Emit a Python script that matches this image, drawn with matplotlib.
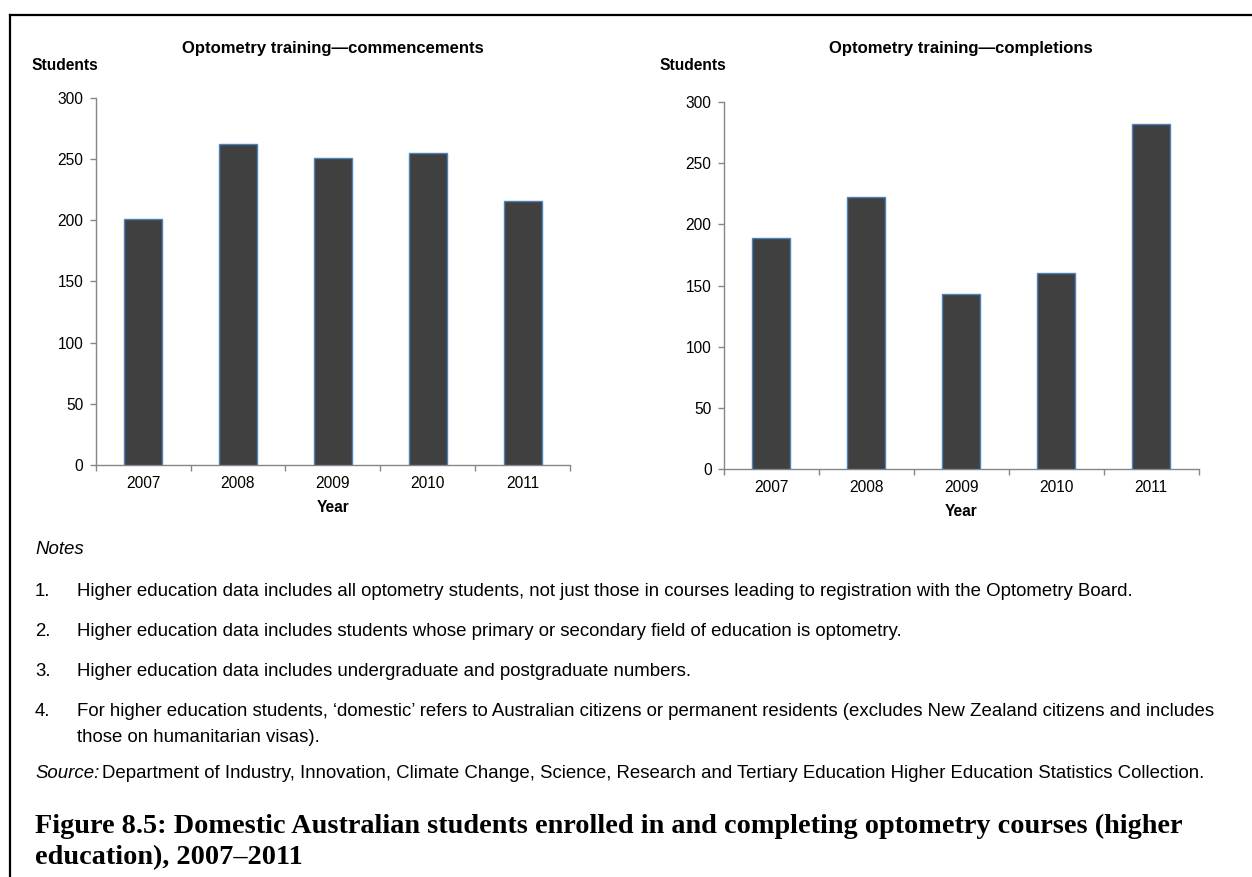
import matplotlib
matplotlib.use("Agg")
import matplotlib.pyplot as plt
from matplotlib.lines import Line2D

plt.rcParams['font.family'] = ['Liberation Sans', 'DejaVu Sans']

years = ["2007", "2008", "2009", "2010", "2011"]
commencements = [201, 262, 251, 255, 216]
completions = [189, 222, 143, 160, 282]
y_ticks = [0, 50, 100, 150, 200, 250, 300]

title_left = "Optometry training\u2014commencements"
title_right = "Optometry training\u2014completions"
notes = [
    ("1.", "Higher education data includes all optometry students, not just those in courses leading to registration with the Optometry Board."),
    ("2.", "Higher education data includes students whose primary or secondary field of education is optometry."),
    ("3.", "Higher education data includes undergraduate and postgraduate numbers."),
    ("4.", "For higher education students, \u2018domestic\u2019 refers to Australian citizens or permanent residents (excludes New Zealand citizens and includes"),
]
note4_cont = "those on humanitarian visas)."
source_text = "Department of Industry, Innovation, Climate Change, Science, Research and Tertiary Education Higher Education Statistics Collection."
fig_title_1 = "Figure 8.5: Domestic Australian students enrolled in and completing optometry courses (higher"
fig_title_2 = "education), 2007\u20132011"

W, H = 1252, 877
fig = plt.figure(figsize=(W / 100, H / 100), dpi=100)

def fx(x):
    return x / W

def fy(y):
    return 1 - y / H

AX_GRAY = "#868686"
BAR_FACE = "#404040"
BAR_EDGE = "#4F81BD"
TICK_FS = 11.2

def make_chart(x0, x1, ytop, ybot, values, title, title_y, students_x):
    ax = fig.add_axes([fx(x0), fy(ybot), fx(x1) - fx(x0), fy(ytop) - fy(ybot)])
    pos = list(range(len(years)))
    ax.bar(pos, values, width=0.4, color=BAR_FACE, edgecolor=BAR_EDGE, linewidth=1.0, zorder=3)
    ax.set_xlim(-0.5, len(years) - 0.5)
    ax.set_ylim(0, 300)
    for s in ("top", "right"):
        ax.spines[s].set_visible(False)
    for s in ("left", "bottom"):
        ax.spines[s].set_color(AX_GRAY)
        ax.spines[s].set_linewidth(1.0)
    ax.set_yticks(y_ticks)
    ax.set_yticklabels([str(v) for v in y_ticks])
    ax.tick_params(axis="y", direction="out", length=4, width=1, color=AX_GRAY,
                   labelsize=TICK_FS, pad=5, labelcolor="black")
    ax.set_xticks([p - 0.5 for p in pos] + [len(years) - 0.5])
    ax.set_xticklabels([])
    ax.tick_params(axis="x", which="major", direction="out", length=4, width=1, color=AX_GRAY)
    ax.set_xticks(pos, minor=True)
    ax.set_xticklabels(years, minor=True)
    ax.tick_params(axis="x", which="minor", length=0, labelsize=TICK_FS, pad=8, labelcolor="black")
    ax.set_xlabel("Year", fontsize=11.2, fontweight="bold", labelpad=6.5)
    cx = (x0 + x1) / 2
    fig.text(fx(cx), fy(title_y), title, ha="center", va="center", fontsize=12, fontweight="bold")
    fig.text(fx(students_x), fy(65), "Students", ha="left", va="center", fontsize=11.2, fontweight="bold")
    return ax

make_chart(95.7, 570, 97.7, 465, commencements, title_left, 48, 31)
make_chart(724, 1198.6, 101.7, 469.3, completions, title_right, 48, 659)

# Frame lines
fig.add_artist(Line2D([fx(10), fx(W)], [fy(15), fy(15)], color="black", linewidth=1.6))
fig.add_artist(Line2D([fx(10), fx(10)], [fy(15), fy(H)], color="black", linewidth=1.6))

NOTE_FS = 13.4
fig.text(fx(35), fy(550), "Notes", ha="left", va="center", fontsize=NOTE_FS, style="italic")
note_ys = [592, 632, 672, 712]
for (num, txt), yy in zip(notes, note_ys):
    fig.text(fx(35), fy(yy), num, ha="left", va="center", fontsize=NOTE_FS)
    fig.text(fx(77), fy(yy), txt, ha="left", va="center", fontsize=NOTE_FS)
fig.text(fx(77), fy(738), note4_cont, ha="left", va="center", fontsize=NOTE_FS)

src = fig.text(fx(35), fy(773), "Source:", ha="left", va="center", fontsize=NOTE_FS, style="italic")
fig.canvas.draw()
bb = src.get_window_extent()
fig.text(bb.x1 / W + fx(3), fy(773), source_text, ha="left", va="center", fontsize=NOTE_FS)

SERIF = ['Liberation Serif', 'DejaVu Serif']
fig.text(fx(35), fy(826), fig_title_1, ha="left", va="center", fontsize=20.3, fontweight="bold", family=SERIF)
fig.text(fx(35), fy(858), fig_title_2, ha="left", va="center", fontsize=20.3, fontweight="bold", family=SERIF)

fig.savefig("out.png", dpi=100)
